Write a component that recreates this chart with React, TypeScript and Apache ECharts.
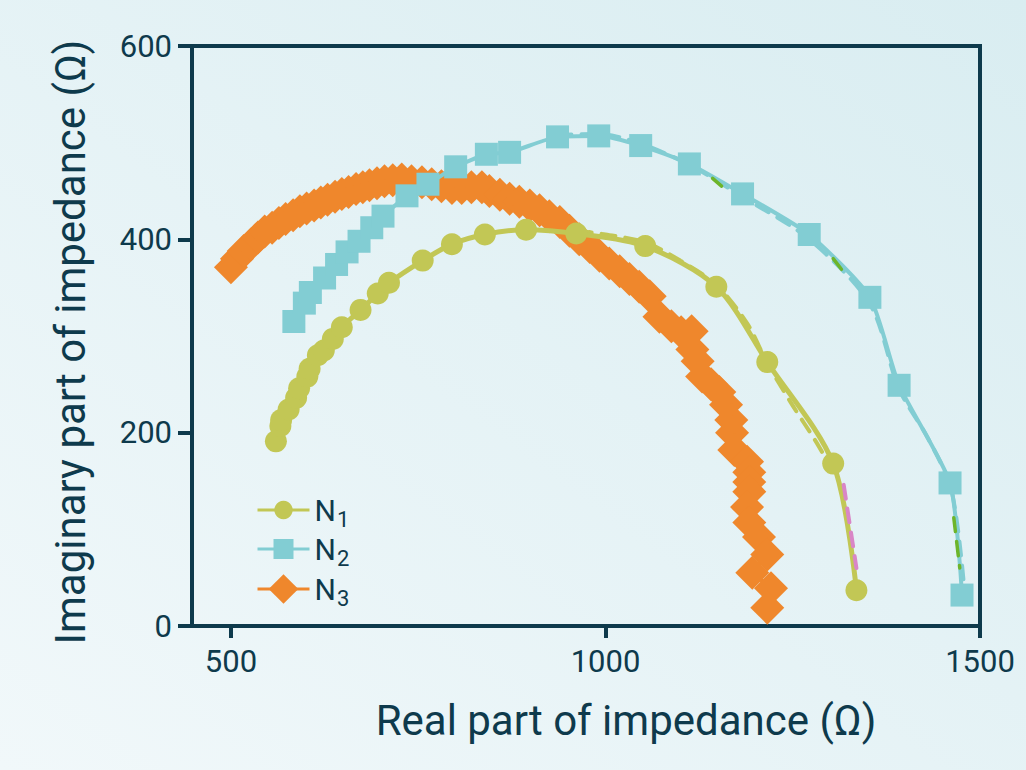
import React, { useEffect, useRef } from "react";
import * as echarts from "echarts";

const xTicks = [500, 1000, 1500];
const yTicks = [0, 200, 400, 600];

const n1Data: [number, number][] = [
  [560, 191], [566, 207], [567, 213], [577, 224], [587, 236], [591, 246], [602, 258], [605, 266],
  [616, 280], [624, 285], [636, 297], [648, 309], [673, 327], [696, 344], [711, 355], [756, 378],
  [795, 395], [839, 405], [894, 410], [961, 406], [1053, 393], [1148, 351], [1216, 273], [1304, 168],
  [1335, 37],
];

const n2Data: [number, number][] = [
  [584, 315], [598, 334], [606, 345], [625, 360], [641, 374], [655, 387], [671, 398], [688, 412],
  [703, 424], [735, 445], [763, 457], [800, 475], [841, 488], [872, 490], [936, 506], [991, 507],
  [1047, 497], [1112, 478], [1183, 447], [1272, 405], [1353, 340], [1392, 249], [1460, 148], [1476, 32],
];

const n3Data: [number, number][] = [
  [500, 371], [508, 380], [517, 388], [527, 395], [536, 402], [545, 408], [555, 412], [564, 417],
  [573, 421], [583, 425], [592, 429], [601, 432], [611, 435], [620, 438], [629, 441], [639, 444],
  [648, 447], [657, 449], [667, 452], [676, 454], [685, 456], [695, 458], [705, 460], [716, 461],
  [728, 462], [741, 460], [755, 459], [768, 457], [781, 455], [795, 453], [808, 453], [821, 454],
  [835, 454], [845, 450], [859, 446], [872, 442], [885, 439], [899, 435], [912, 430], [925, 424],
  [939, 418], [952, 409], [965, 400], [979, 392], [992, 383], [1005, 375], [1019, 367], [1032, 359],
  [1045, 351], [1059, 341], [1072, 320], [1088, 310], [1101, 304], [1115, 305], [1116, 286], [1123, 274],
  [1129, 258], [1141, 250], [1152, 242], [1161, 229], [1168, 213], [1169, 200], [1172, 182], [1189, 170],
  [1192, 159], [1192, 149], [1192, 139], [1189, 123], [1192, 107], [1205, 92], [1216, 74], [1196, 55],
  [1221, 39], [1216, 19],
];

const n1Fit: [number, number][] = [
  [963, 409], [1000, 405], [1053, 397], [1100, 378], [1148, 353], [1190, 312], [1216, 272],
  [1250, 228], [1280, 192], [1304, 160],
];
const n1FitTail: [number, number][] = [[1318, 146], [1335, 60]];

const n2Fit: [number, number][] = [
  [936, 508], [991, 509], [1047, 499], [1112, 477], [1183, 444], [1272, 400], [1353, 333],
  [1392, 245], [1430, 195], [1462, 140], [1480, 30],
];
const n2FitGreenA: [number, number][] = [[1143, 463], [1155, 455]];
const n2FitGreenB: [number, number][] = [[1304, 380], [1315, 369]];
const n2FitGreenC: [number, number][] = [[1465, 112], [1473, 60]];

const C1 = "#c2c755";
const C2 = "#82cdd3";
const C3 = "#ef872c";
const PINK = "#d986c6";
const GREEN = "#6db52a";
const INK = "#0e3a4c";
const FONT = "Roboto";

export default function App() {
  const ref = useRef<HTMLDivElement>(null);
  useEffect(() => {
    if (!ref.current) return;
    const chart = echarts.init(ref.current, undefined, { renderer: "svg" });
    const dashSeries = (name: string, data: [number, number][], color: string, z: number, width = 4) => ({
      name,
      type: "line",
      data,
      smooth: 0.3,
      symbol: "none",
      silent: true,
      z,
      lineStyle: { color, width, type: [14, 10], cap: "round" },
      legendHoverLink: false,
    });
    const legendText = {
      color: INK,
      fontFamily: FONT,
      rich: {
        n: { fontSize: 30, fontFamily: FONT, color: INK, lineHeight: 36 },
        s: { fontSize: 22, fontFamily: FONT, color: INK, lineHeight: 36, padding: [18, 0, 0, 1] },
      },
    };
    const legendOf = (name: string, centerY: number, itemHeight: number) => ({
      orient: "vertical",
      left: 251,
      top: centerY - 18,
      itemWidth: 52,
      itemHeight,
      itemGap: 0,
      data: [name],
      lineStyle: { width: 3 },
      formatter: (nm: string) => `{n|N}{s|${nm.slice(1)}}`,
      textStyle: legendText,
    });
    chart.setOption({
      animation: false,
      backgroundColor: new echarts.graphic.LinearGradient(0, 1, 1, 0, [
        { offset: 0, color: "#f1f8fa" },
        { offset: 1, color: "#d9edf1" },
      ]),
      grid: {
        left: 192,
        right: 46,
        top: 46,
        bottom: 144,
        show: true,
        borderColor: INK,
        borderWidth: 4,
        backgroundColor: "transparent",
      },
      xAxis: {
        type: "value",
        min: 448,
        max: 1500,
        splitLine: { show: false },
        axisLine: { show: true, lineStyle: { color: INK, width: 4 } },
        axisTick: { show: true, length: 12, customValues: xTicks, lineStyle: { color: INK, width: 4 } },
        axisLabel: {
          customValues: xTicks,
          color: INK,
          fontSize: 31,
          fontFamily: FONT,
          margin: 20,
          formatter: (v: number) => String(v),
        },
      },
      yAxis: {
        type: "value",
        min: 0,
        max: 600,
        interval: 200,
        splitLine: { show: false },
        axisLine: { show: true, lineStyle: { color: INK, width: 4 } },
        axisTick: { show: true, length: 14, lineStyle: { color: INK, width: 4 } },
        axisLabel: {
          color: INK,
          fontSize: 31,
          fontFamily: FONT,
          margin: 20,
          formatter: (v: number) => (yTicks.includes(v) ? String(v) : ""),
        },
      },
      legend: [legendOf("N1", 503, 23), legendOf("N2", 542, 25), legendOf("N3", 582, 37)],
      graphic: [
        {
          type: "text",
          x: 626,
          y: 720,
          style: {
            text: "Real part of impedance (Ω)",
            fill: INK,
            font: `42px ${FONT}`,
            fontSize: 42,
            fontFamily: FONT,
            align: "center",
            verticalAlign: "middle",
            textAlign: "center",
            textVerticalAlign: "middle",
          },
        },
        {
          type: "text",
          x: 70,
          y: 342,
          rotation: Math.PI / 2,
          style: {
            text: "Imaginary part of impedance (Ω)",
            fill: INK,
            font: `42px ${FONT}`,
            fontSize: 42,
            fontFamily: FONT,
            align: "center",
            verticalAlign: "middle",
            textAlign: "center",
            textVerticalAlign: "middle",
          },
        },
      ],
      series: [
        {
          name: "N3",
          type: "line",
          data: n3Data,
          z: 2,
          symbol: "diamond",
          symbolSize: 34,
          itemStyle: { color: C3 },
          lineStyle: { color: C3, width: 4 },
        },
        dashSeries("N2fit", n2Fit, C2, 3),
        {
          name: "N2",
          type: "line",
          data: n2Data,
          z: 4,
          smooth: 0.2,
          symbol: "rect",
          symbolSize: 23,
          itemStyle: { color: C2 },
          lineStyle: { color: C2, width: 4 },
        },
        dashSeries("N2fitA", n2FitGreenA, GREEN, 5, 3.5),
        dashSeries("N2fitB", n2FitGreenB, GREEN, 5, 3.5),
        dashSeries("N2fitC", n2FitGreenC, GREEN, 5, 3.5),
        dashSeries("N1fit", n1Fit, C1, 5),
        dashSeries("N1fitTail", n1FitTail, PINK, 7, 4),
        {
          name: "N1",
          type: "line",
          data: n1Data,
          z: 6,
          smooth: 0.3,
          symbol: "circle",
          symbolSize: 22,
          itemStyle: { color: C1 },
          lineStyle: { color: C1, width: 5 },
        },
      ],
    });
    return () => chart.dispose();
  }, []);
  return (
    <div style={{ position: "absolute", left: 0, top: 0, width: 1026, height: 770 }}>
      <div ref={ref} style={{ width: 1026, height: 770 }} />
    </div>
  );
}
